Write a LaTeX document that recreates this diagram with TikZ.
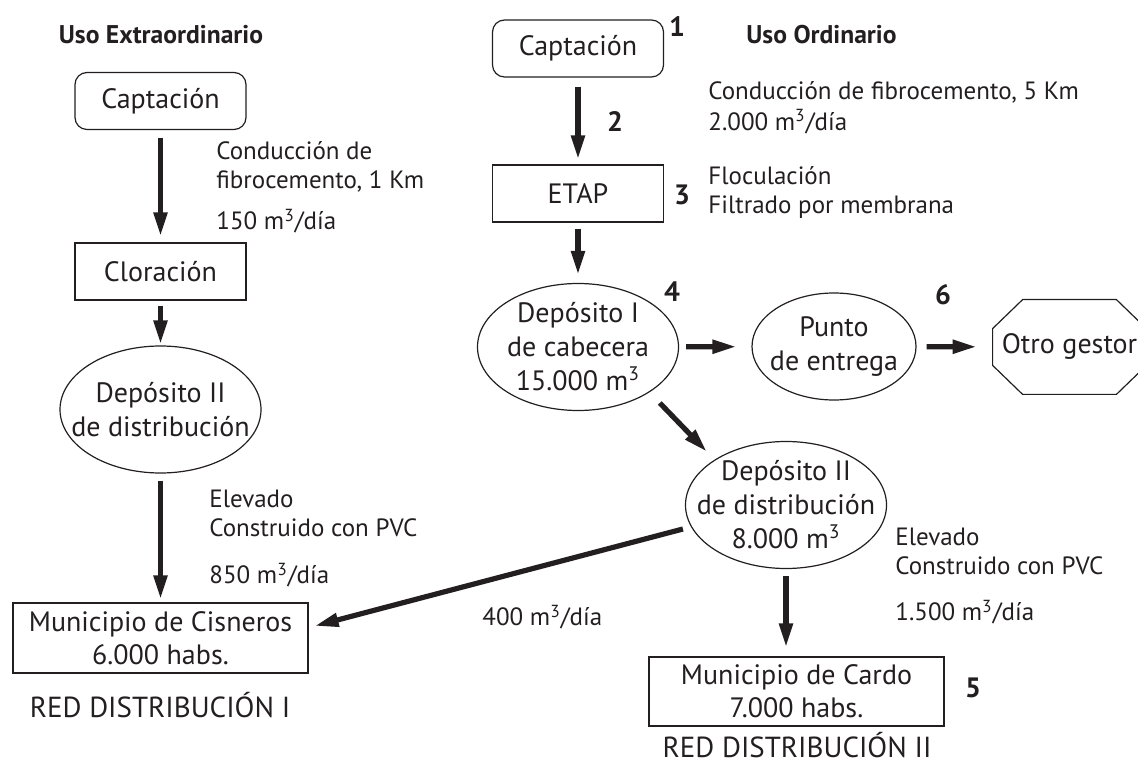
\documentclass[tikz,border=0pt]{standalone}
\usepackage{fontspec}
\setmainfont{PT Sans}
\usetikzlibrary{arrows.meta,positioning,shapes.geometric,calc}
\definecolor{inkdark}{HTML}{231F20}

\begin{document}
\begin{tikzpicture}[x=0.5pt,y=-0.5pt,
  every node/.style={text=inkdark},
  box/.style={draw=inkdark,line width=0.6pt,minimum width=85.5pt,minimum height=28.5pt,
    font=\fontsize{14}{16.5}\selectfont,align=center,inner sep=2pt},
  rbox/.style={box,rounded corners=6pt},
  tank/.style={ellipse,draw=inkdark,line width=0.6pt,minimum width=100.5pt,minimum height=63.5pt,inner sep=0pt},
  tanktext/.style={align=center,inner sep=0pt,font=\fontsize{14}{17}\selectfont},
  note/.style={anchor=west,align=left,inner sep=0pt,font=\fontsize{12.5}{14.5}\selectfont},
  header/.style={inner sep=0pt,font=\fontsize{12.8}{14}\bfseries\selectfont},
  num/.style={inner sep=0pt,font=\fontsize{14}{14}\bfseries\selectfont},
  redlabel/.style={inner sep=0pt,font=\fontsize{14.5}{16}\selectfont},
  flow/.style={draw=inkdark,line width=2.6pt,-{Triangle[length=12pt,width=6.5pt]},
    shorten <=3.5pt,shorten >=3pt}]
  \useasboundingbox (0,0) rectangle (1138,763);

  % uso extraordinario
  \node[header] (hdrExtra) at (161,35) {Uso Extraordinario};
  \node[rbox] (capExtra) at (160.5,101) {Captación};
  \node[box] (cloracion) at (160.5,271.5) {Cloración};
  \node[tank] (depDistL) at (160.5,409.5) {};
  \node[tanktext] at (depDistL) {Depósito II\\de distribución};
  \node[box,minimum width=147.5pt,minimum height=35pt] (cisneros) at (160.5,638)
    {Municipio de Cisneros\\6.000 habs.};
  \node[redlabel] (redUno) at (160,705) {RED DISTRIBUCIÓN I};

  \node[note] (condUno) at (216,166.5) {Conducción de\\fibrocemento, 1 Km};
  \node[note] (caudalUno) at (216,221) {150 m\textsuperscript{3}/día};
  \node[note] (elevUno) at (209,513.5) {Elevado\\Construido con PVC};
  \node[note] (caudalDos) at (209,575) {850 m\textsuperscript{3}/día};

  % uso ordinario
  \node[rbox] (capOrd) at (578,48.5) {Captación};
  \node[num] (numUno) at (677,27) {1};
  \node[header] (hdrOrd) at (821.5,35) {Uso Ordinario};
  \node[num] (numDos) at (615,122) {2};
  \node[note,font=\fontsize{12.5}{15.5}\selectfont] (condDos) at (708,107.5)
    {Conducción de fibrocemento, 5 Km\\2.000 m\textsuperscript{3}/día};
  \node[box] (etap) at (578,193.5) {ETAP};
  \node[num] (numTres) at (682,195) {3};
  \node[note] (tratam) at (708,192.5) {Floculación\\Filtrado por membrana};

  \node[tank] (depCab) at (578,347) {};
  \node[tanktext] at (depCab) {Depósito I\\de cabecera\\15.000 m\textsuperscript{3}};
  \node[num] (numCuatro) at (672,292) {4};

  \node[tank,minimum width=82pt,minimum height=53.5pt] (punto) at (834,346.5) {};
  \node[tanktext] at (punto) {Punto\\de entrega};
  \node[num] (numSeis) at (943,295) {6};

  \node[minimum width=76.5pt,minimum height=47pt,inner sep=0pt,
    font=\fontsize{14}{16.5}\selectfont] (otro) at (1069.5,347) {Otro gestor};
  \draw[inkdark,line width=0.6pt] ($(otro.north west)+(30,0)$) -- ($(otro.north east)+(-30,0)$)
    -- ($(otro.north east)+(0,29)$) -- ($(otro.south east)+(0,-29)$)
    -- ($(otro.south east)+(-30,0)$) -- ($(otro.south west)+(30,0)$)
    -- ($(otro.south west)+(0,-29)$) -- ($(otro.north west)+(0,29)$) -- cycle;

  \node[tank] (depDistR) at (786,505) {};
  \node[tanktext] at (depDistR) {Depósito II\\de distribución\\8.000 m\textsuperscript{3}};
  \node[note] (elevDos) at (895,551) {Elevado\\Construido con PVC};
  \node[note] (caudalTres) at (895,612) {1.500 m\textsuperscript{3}/día};
  \node[note] (caudalCuatro) at (482,617) {400 m\textsuperscript{3}/día};

  \node[box,minimum width=147.5pt,minimum height=34.5pt] (cardo) at (796.5,691.5)
    {Municipio de Cardo\\7.000 habs.};
  \node[num] (numCinco) at (973,688) {5};
  \node[redlabel] (redDos) at (797,745) {RED DISTRIBUCIÓN II};

  % conducciones
  \draw[flow,shorten <=3.75pt] (capExtra) -- (cloracion);
  \draw[flow,shorten <=2.5pt,shorten >=0.5pt] (cloracion) -- (depDistL);
  \draw[flow,shorten >=1.5pt] (depDistL) -- (cisneros);
  \draw[flow,shorten <=4.5pt,shorten >=2.5pt] (capOrd) -- (etap);
  \draw[flow,shorten <=3pt,shorten >=4pt] (etap) -- (depCab);
  \draw[flow,shorten >=7.5pt] (depCab) -- (punto);
  \draw[flow,shorten <=5pt,shorten >=8pt] (punto) -- (otro);
  \draw[flow,shorten <=7.4pt,shorten >=5.5pt] (depCab.south east) -- (depDistR.north west);
  \draw[flow,shorten >=4.5pt] (depDistR.south) -- (depDistR.south |- cardo.north);
  \draw[flow,shorten <=0pt,shorten >=0pt] ($(depDistR.west)+(-2,24)$) -- ($(cisneros.east)+(6,-12)$);
\end{tikzpicture}
\end{document}
